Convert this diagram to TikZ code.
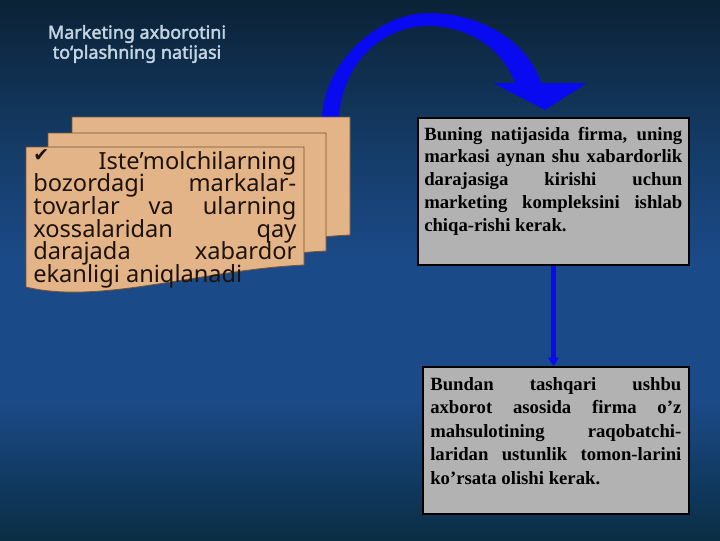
\documentclass[tikz,border=0pt]{standalone}
\usepackage{fontspec}
\setmainfont{Liberation Serif}
\newfontfamily\notosans{Noto Sans}
\newfontfamily\notosansbold{Noto Sans}[FakeBold=2.2]
\newfontfamily\symbolfont{DejaVu Sans}
\usetikzlibrary{arrows.meta}

\tolerance=9999
\hyphenpenalty=10000
\protected\def\tightlines{\lineskiplimit=-20pt\relax}

\definecolor{bgtop}{HTML}{0B2236}
\definecolor{bghigh}{HTML}{153C68}
\definecolor{bgmid}{HTML}{1B4A88}
\definecolor{bgbot}{HTML}{0A2E44}
\definecolor{pagetan}{HTML}{E2B488}
\definecolor{pageedge}{HTML}{7A5535}
\definecolor{pageink}{HTML}{1E1209}
\definecolor{boxgray}{HTML}{B2B2B2}
\definecolor{titleblue}{HTML}{C3D4E3}
\definecolor{arrowblue}{HTML}{0A0AF0}

\tikzset{
  heading/.style={align=center, text=titleblue, inner sep=0pt,
    font=\notosansbold\fontsize{12.8}{14.2}\selectfont},
  pagesheet/.style={fill=pagetan, draw=pageedge, line width=0.6pt},
  pagetext/.style={align=justify, text=pageink, inner sep=0pt, text width=6.575cm,
    font=\notosans\fontsize{16.8}{16.15}\selectfont\tightlines},
  infobox/.style={fill=boxgray, draw=black, line width=1.4pt, inner sep=0pt},
  boxtext/.style={align=justify, text=black, inner sep=0pt,
    font=\bfseries\fontsize{13.3}{16.3}\selectfont\tightlines},
  downarrow/.style={arrowblue, line width=3.6pt, -{Triangle[width=7.5pt,length=6pt]}}
}

\begin{document}
\begin{tikzpicture}[x=0.025cm, y=-0.025cm]

\useasboundingbox (0,0) rectangle (720,540);
\shade[top color=bgtop, bottom color=bghigh] (0,0) rectangle (720,151);
\shade[top color=bghigh, bottom color=bgmid] (0,150) rectangle (720,261);
\fill[bgmid] (0,260) rectangle (720,401);
\shade[top color=bgmid, bottom color=bgbot] (0,400) rectangle (720,540);

\node[heading] (title) at (137,44) {Marketing axborotini\\to‘plashning natijasi};

% curved arrow
\fill[arrowblue] (322,117) .. controls (325,60) and (380,13) .. (428,13)
  .. controls (482,13) and (528,42) .. (541,83) -- (587,83) -- (545,110) -- (493,83)
  -- (515,83) .. controls (503,50) and (470,26) .. (428,26)
  .. controls (385,26) and (343,60) .. (339,117) -- cycle;

\filldraw[pagesheet, shift={(46,-30)}] (26,147) -- (304,147) -- (304,265) .. controls (200,270) and (100,305) .. (26,287) -- cycle;
\filldraw[pagesheet, shift={(22,-14)}] (26,147) -- (304,147) -- (304,265) .. controls (200,270) and (100,305) .. (26,287) -- cycle;
\filldraw[pagesheet] (26,147) -- (304,147) -- (304,265) .. controls (200,270) and (100,305) .. (26,287) -- cycle;

\node[pagetext, anchor=base west] (findings) at (33,169)
  {\raisebox{0.32em}{\symbolfont\fontsize{13.5}{13.5}\selectfont ✔}\hfill Iste’molchilarning\linebreak
   bozordagi markalar-\linebreak tovarlar va ularning\linebreak
   xossalaridan qay\linebreak darajada xabardor\linebreak
   ekanligi aniqlanadi};

\node[infobox, minimum width=6.775cm, minimum height=3.675cm, anchor=north west] (result) at (417,117) {};
\node[boxtext, text width=6.45cm, anchor=base west] (resulttext) at (424,140)
  {Buning natijasida firma, uning\linebreak markasi aynan shu xabardorlik\linebreak
   darajasiga kirishi uchun\linebreak marketing kompleksini ishlab\linebreak
   chiqa-rishi kerak.};

\node[infobox, minimum width=6.65cm, minimum height=3.675cm, anchor=north west] (extra) at (422,366) {};
\node[boxtext, text width=6.275cm, anchor=base west,
  font=\bfseries\fontsize{13.3}{16.8}\selectfont\tightlines] (extratext) at (430,390)
  {Bundan tashqari ushbu\linebreak axborot asosida firma o’z\linebreak
   mahsulotining raqobatchi-\linebreak laridan ustunlik tomon-larini\linebreak
   ko’rsata olishi kerak.};

\draw[downarrow] (result.south) -- (result.south |- extra.north);

\end{tikzpicture}
\end{document}
